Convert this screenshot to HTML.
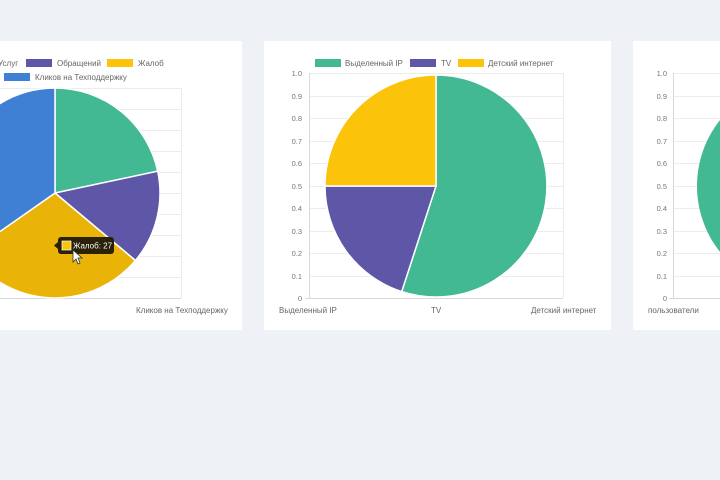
<!DOCTYPE html>
<html><head><meta charset="utf-8"><style>
html,body{margin:0;padding:0;background:#eef2f7;}
svg{display:block;font-family:"Liberation Sans",sans-serif;}
</style></head><body>
<svg width="720" height="480" viewBox="0 0 720 480" xmlns="http://www.w3.org/2000/svg">
<rect width="720" height="480" fill="#eef2f7"/>
<rect x="-5" y="41" width="247" height="289" fill="#fff"/>
<rect x="264" y="41" width="347" height="289" fill="#fff"/>
<rect x="633" y="41" width="100" height="289" fill="#fff"/>
<g stroke="#ececec" stroke-width="1">
<line x1="0" y1="88.5" x2="181" y2="88.5"/><line x1="0" y1="109.5" x2="181" y2="109.5"/><line x1="0" y1="130.5" x2="181" y2="130.5"/><line x1="0" y1="151.5" x2="181" y2="151.5"/><line x1="0" y1="172.5" x2="181" y2="172.5"/><line x1="0" y1="193.5" x2="181" y2="193.5"/><line x1="0" y1="214.5" x2="181" y2="214.5"/><line x1="0" y1="235.5" x2="181" y2="235.5"/><line x1="0" y1="256.5" x2="181" y2="256.5"/><line x1="0" y1="277.5" x2="181" y2="277.5"/>
<line x1="181.5" y1="88" x2="181.5" y2="298"/>
</g>
<line x1="0" y1="298.5" x2="181" y2="298.5" stroke="#d8d8d8"/>
<g stroke="#fff" stroke-width="1.5">
<path d="M55,193 L55,88 A105,105 0 0 1 157.7,171.2 Z" fill="#42b993"/>
<path d="M55,193 L157.7,171.2 A105,105 0 0 1 135.4,260.5 Z" fill="#5e57a8"/>
<path d="M55,193 L135.4,260.5 A105,105 0 0 1 -31,253.2 Z" fill="#eab308"/>
<path d="M55,193 L-31,253.2 A105,105 0 0 1 55,88 Z" fill="#3f7fd4"/>
</g>
<g font-size="8" fill="#666">
<text x="-2" y="66">Услуг</text>
<rect x="26" y="59" width="26" height="8" fill="#5e57a8"/><text x="57" y="66">Обращений</text>
<rect x="107" y="59" width="26" height="8" fill="#fcc30b"/><text x="138" y="66">Жалоб</text>
<rect x="4" y="73" width="26" height="8" fill="#3f7fd4"/><text x="35" y="80">Кликов на Техподдержку</text>
<text x="136" y="313">Кликов на Техподдержку</text>
</g>
<rect x="58" y="237" width="56" height="17" rx="3" fill="#2a2108"/>
<polygon points="58,242 54,245.5 58,249" fill="#2a2108"/>
<rect x="62" y="241" width="9" height="9" fill="#fcc30b" stroke="#fff" stroke-width="0.7"/>
<text x="73" y="248.5" font-size="8" fill="#fff">Жалоб: 27</text>
<path d="M73,250 L73,262 L76,259 L78,264 L80,263 L78,258 L82,258 Z" fill="#fff" stroke="#333" stroke-width="0.8"/>
<g stroke="#ececec">
<line x1="309" y1="73.5" x2="563" y2="73.5"/><line x1="309" y1="96.5" x2="563" y2="96.5"/><line x1="309" y1="118.5" x2="563" y2="118.5"/><line x1="309" y1="141.5" x2="563" y2="141.5"/><line x1="309" y1="163.5" x2="563" y2="163.5"/><line x1="309" y1="186.5" x2="563" y2="186.5"/><line x1="309" y1="208.5" x2="563" y2="208.5"/><line x1="309" y1="231.5" x2="563" y2="231.5"/><line x1="309" y1="253.5" x2="563" y2="253.5"/><line x1="309" y1="276.5" x2="563" y2="276.5"/>
<line x1="436.5" y1="73" x2="436.5" y2="298"/><line x1="563.5" y1="73" x2="563.5" y2="298"/>
</g>
<g stroke="#d8d8d8"><line x1="305" y1="298.5" x2="563" y2="298.5"/><line x1="309.5" y1="73" x2="309.5" y2="298"/></g>
<g stroke="#fff" stroke-width="1.5">
<path d="M436,186 L436,75 A111,111 0 1 1 401.7,291.6 Z" fill="#42b993"/>
<path d="M436,186 L401.7,291.6 A111,111 0 0 1 325,186 Z" fill="#5e57a8"/>
<path d="M436,186 L325,186 A111,111 0 0 1 436,75 Z" fill="#fcc30b"/>
</g>
<g font-size="7.5" fill="#777" text-anchor="end">
<text x="302" y="76">1.0</text><text x="302" y="99">0.9</text><text x="302" y="121">0.8</text><text x="302" y="144">0.7</text><text x="302" y="166">0.6</text><text x="302" y="189">0.5</text><text x="302" y="211">0.4</text><text x="302" y="234">0.3</text><text x="302" y="256">0.2</text><text x="302" y="279">0.1</text><text x="302" y="301">0</text>
</g>
<g font-size="8" fill="#666">
<rect x="315" y="59" width="26" height="8" fill="#42b993"/><text x="345" y="66">Выделенный IP</text>
<rect x="410" y="59" width="26" height="8" fill="#5e57a8"/><text x="441" y="66">TV</text>
<rect x="458" y="59" width="26" height="8" fill="#fcc30b"/><text x="488" y="66">Детский интернет</text>
<text x="279" y="313">Выделенный IP</text><text x="431" y="313">TV</text><text x="531" y="313">Детский интернет</text>
</g>
<g stroke="#ececec">
<line x1="673" y1="73.5" x2="720" y2="73.5"/><line x1="673" y1="96.5" x2="720" y2="96.5"/><line x1="673" y1="118.5" x2="720" y2="118.5"/><line x1="673" y1="141.5" x2="720" y2="141.5"/><line x1="673" y1="163.5" x2="720" y2="163.5"/><line x1="673" y1="186.5" x2="720" y2="186.5"/><line x1="673" y1="208.5" x2="720" y2="208.5"/><line x1="673" y1="231.5" x2="720" y2="231.5"/><line x1="673" y1="253.5" x2="720" y2="253.5"/><line x1="673" y1="276.5" x2="720" y2="276.5"/>
</g>
<g stroke="#d8d8d8"><line x1="669" y1="298.5" x2="720" y2="298.5"/><line x1="673.5" y1="73" x2="673.5" y2="298"/></g>
<circle cx="803" cy="186" r="106" fill="#42b993"/>
<g font-size="7.5" fill="#777" text-anchor="end">
<text x="667" y="76">1.0</text><text x="667" y="99">0.9</text><text x="667" y="121">0.8</text><text x="667" y="144">0.7</text><text x="667" y="166">0.6</text><text x="667" y="189">0.5</text><text x="667" y="211">0.4</text><text x="667" y="234">0.3</text><text x="667" y="256">0.2</text><text x="667" y="279">0.1</text><text x="667" y="301">0</text>
</g>
<text x="648" y="313" font-size="8" fill="#666">пользователи</text>
</svg>
</body></html>
